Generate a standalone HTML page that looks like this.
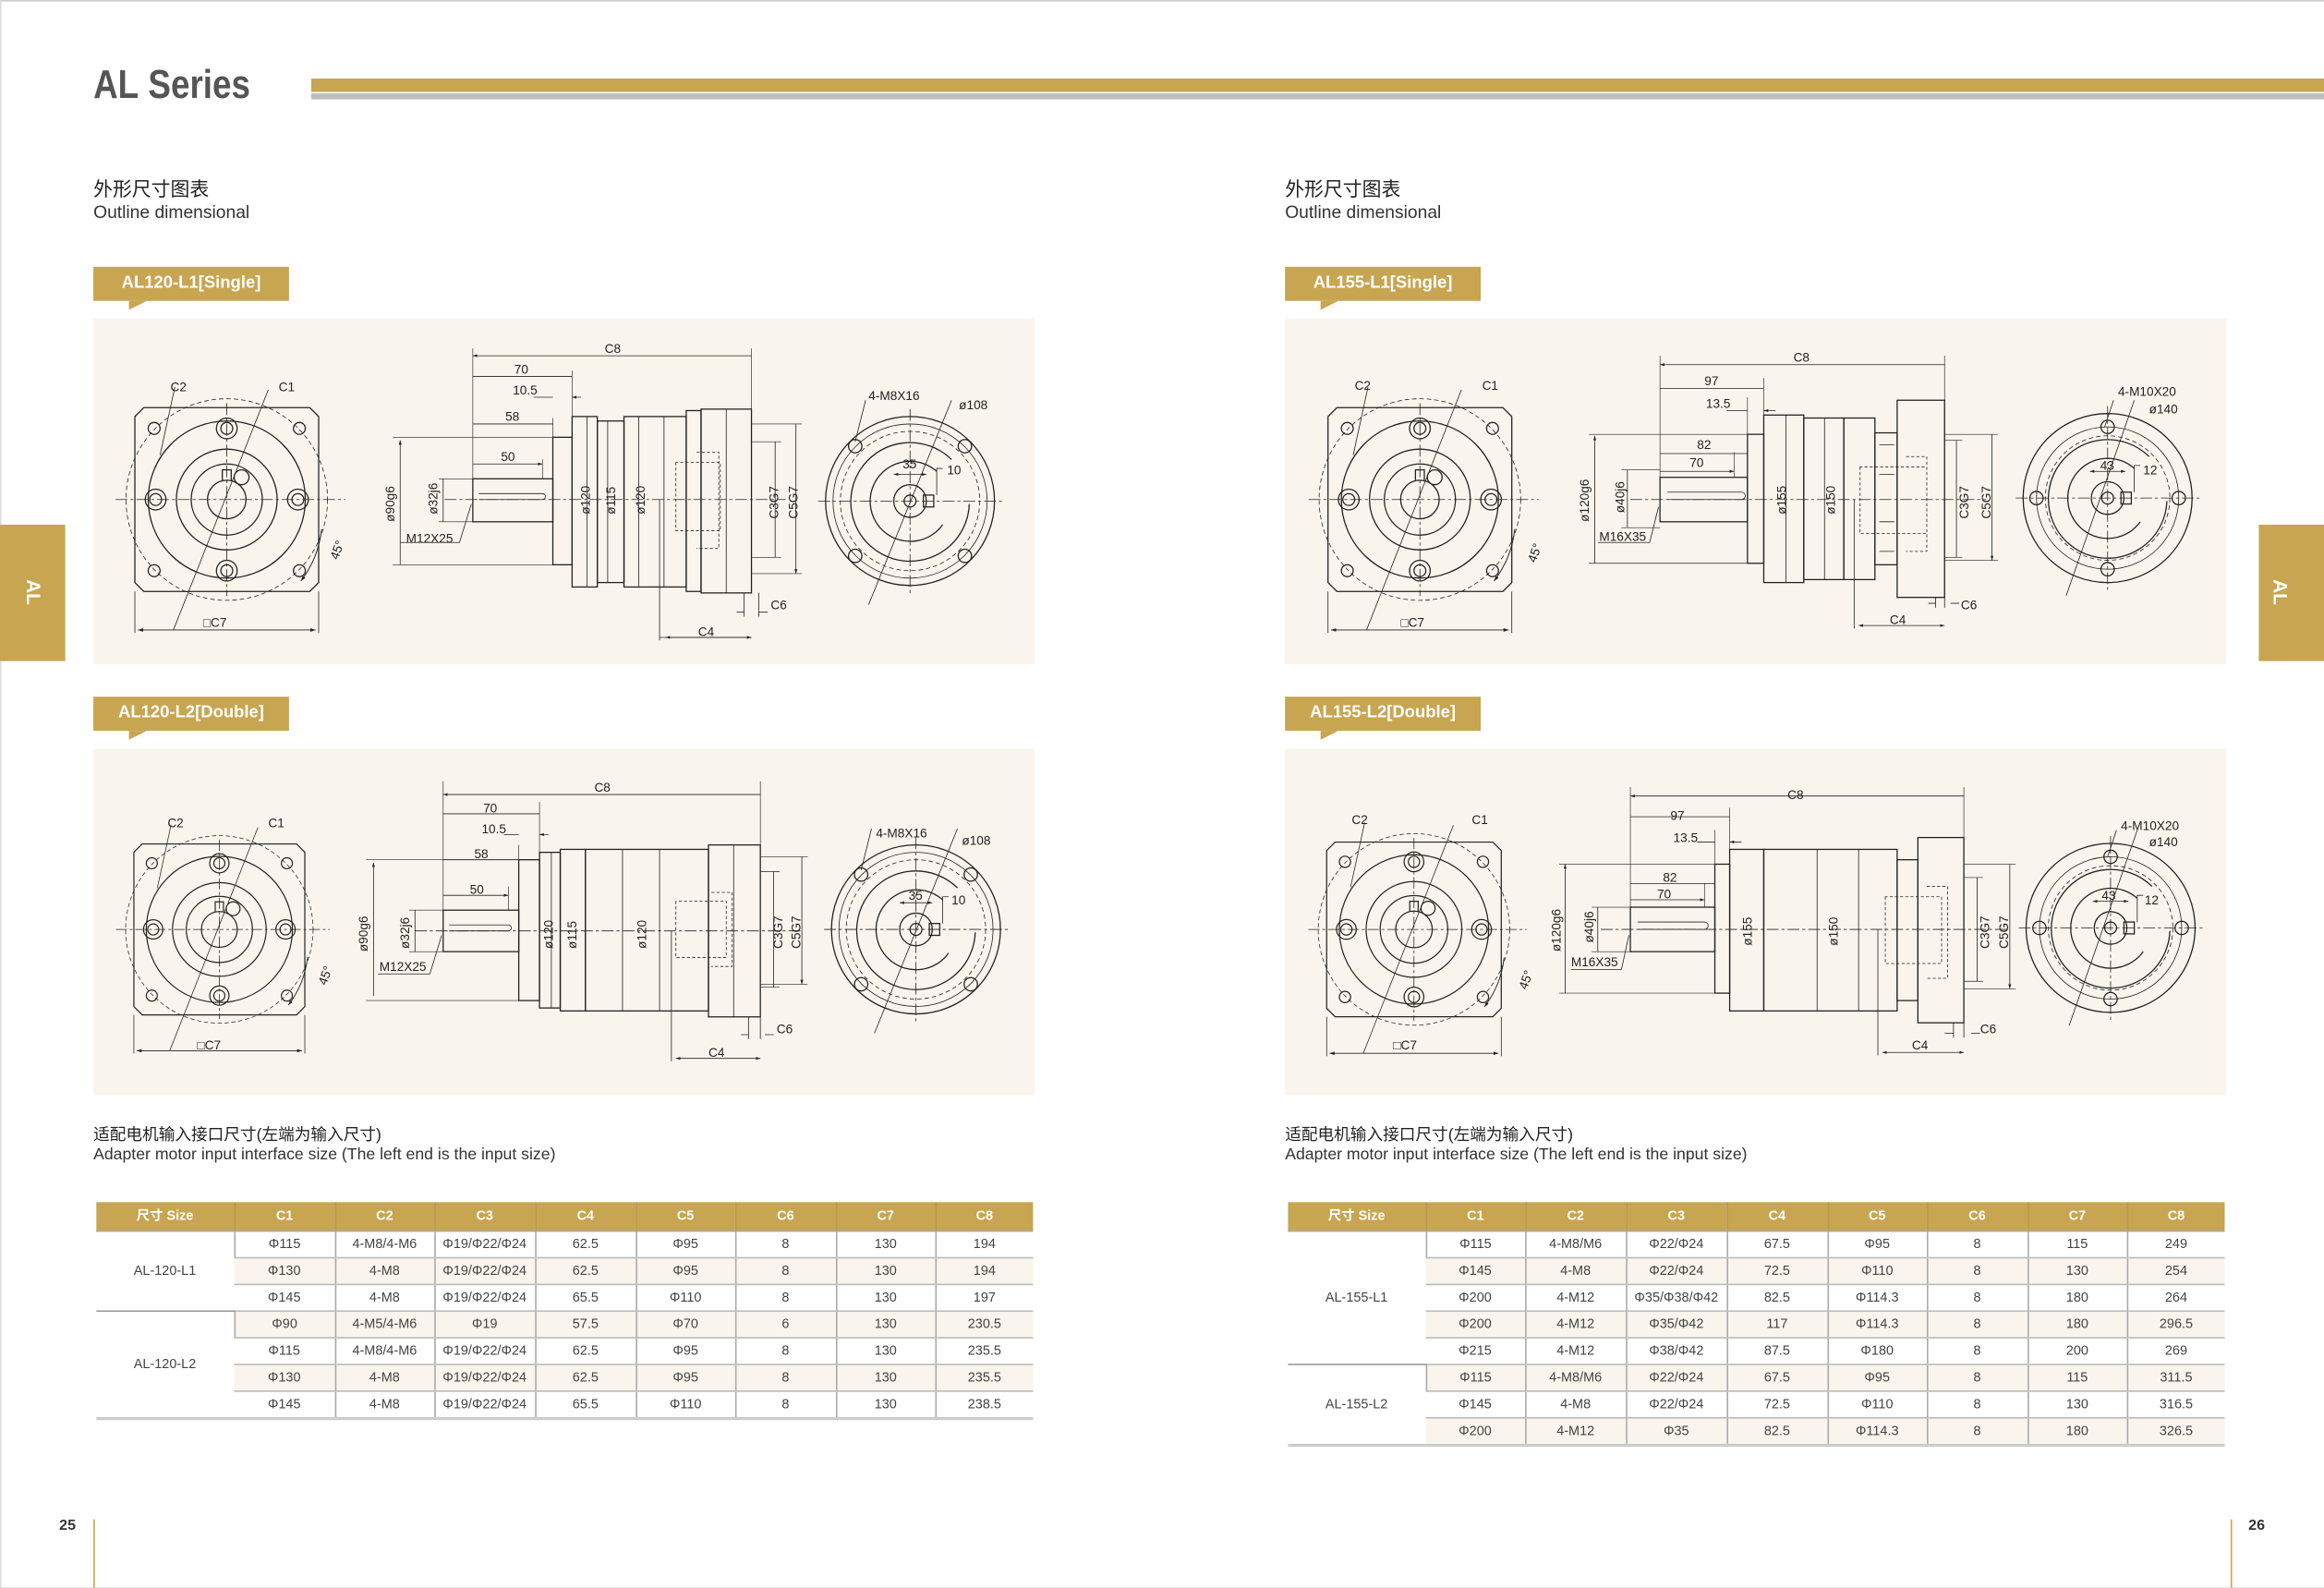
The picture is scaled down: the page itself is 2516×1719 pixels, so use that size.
<!DOCTYPE html>
<html><head><meta charset="utf-8">
<style>
html,body{margin:0;padding:0;background:#fff;}
#wrap{width:2516px;height:1719px;overflow:hidden;position:relative;}
#pg{position:absolute;left:0;top:0;width:1568px;height:1071px;transform:scale(1.6046);transform-origin:0 0;font-family:"Liberation Sans Narrow","Liberation Sans","Noto Sans CJK SC",sans-serif;color:#333;}
.a{position:absolute;}
.tab{position:absolute;background:#c8a550;color:#fff;font-weight:bold;font-size:11.5px;line-height:23px;text-align:center;height:23px;width:132px;}
.tab:after{content:"";position:absolute;left:24px;top:23px;border-left:0 solid transparent;border-right:12px solid transparent;border-top:6px solid #c8a550;}
.panel{position:absolute;background:#f9f5ec;}
table{border-collapse:collapse;position:absolute;font-family:"Liberation Sans Narrow","Liberation Sans","Noto Sans CJK SC",sans-serif;font-size:9px;color:#444;table-layout:fixed;}
td,th{text-align:center;padding:0;height:17px;line-height:17px;border-left:1px solid #aaa;border-bottom:1px solid #bbb;}
th{background:#c8a550;color:#fff;height:19px;line-height:19px;font-weight:bold;border-bottom:1px solid #aaa;border-left:1px solid #b89a50;}
tr td:first-child,tr th:first-child{border-left:none;}
.b td.s{background:#f9f5ec;}
svg text{font-family:"Liberation Sans Narrow","Liberation Sans",sans-serif;font-size:8.5px;fill:#222;}
</style></head><body><div id="wrap"><div id="pg">
<div class="a" style="left:0;top:0;width:1567px;height:1070px;border-top:1px solid #ccc;border-left:1px solid #ddd;border-right:1px solid #ddd;border-bottom:1px solid #ccc"></div>
<div class="a" style="left:63px;top:42px;font-size:27px;font-weight:bold;color:#555;transform:scaleX(0.85);transform-origin:0 0;font-family:'Liberation Sans',sans-serif">AL&nbsp;Series</div>
<div class="a" style="left:210px;top:53px;width:1358px;height:9px;background:#c8a550"></div>
<div class="a" style="left:210px;top:63px;width:1358px;height:4px;background:#bdbdbd"></div>
<div class="a" style="left:0;top:354px;width:44px;height:92px;background:#c8a550"></div>
<div class="a" style="left:14px;top:392px;color:#fff;font-weight:bold;font-size:13px;transform:rotate(90deg)">AL</div>
<div class="a" style="left:1524px;top:354px;width:44px;height:92px;background:#c8a550"></div>
<div class="a" style="left:1530px;top:392px;color:#fff;font-weight:bold;font-size:13px;transform:rotate(90deg)">AL</div>

<div class="a" style="left:63px;top:117px;font-size:13px;color:#222">外形尺寸图表</div>
<div class="a" style="left:63px;top:136px;font-size:12px;color:#333">Outline dimensional</div>
<div class="a" style="left:867px;top:117px;font-size:13px;color:#222">外形尺寸图表</div>
<div class="a" style="left:867px;top:136px;font-size:12px;color:#333">Outline dimensional</div>

<div class="tab" style="left:63px;top:180px">AL120-L1[Single]</div>
<div class="tab" style="left:63px;top:470px">AL120-L2[Double]</div>
<div class="tab" style="left:867px;top:180px">AL155-L1[Single]</div>
<div class="tab" style="left:867px;top:470px">AL155-L2[Double]</div>

<div class="panel" style="left:63px;top:215px;width:635px;height:233px"></div>
<div class="panel" style="left:63px;top:505px;width:635px;height:234px"></div>
<div class="panel" style="left:867px;top:215px;width:635px;height:233px"></div>
<div class="panel" style="left:867px;top:505px;width:635px;height:234px"></div>

<svg class="a" style="left:0;top:0" width="1568" height="1071" viewBox="0 0 1568 1071">
<defs>
<marker id="ar" markerWidth="6" markerHeight="4" refX="6" refY="2" orient="auto-start-reverse"><path d="M0,0 L6,2 L0,4z" fill="#222"/></marker>
<g id="front" fill="none" stroke="#222" stroke-width="0.8">
<path d="M-56,-62 L56,-62 L62,-56 L62,56 L56,62 L-56,62 L-62,56 L-62,-56z"/>
<circle r="68" stroke-dasharray="3,2" stroke-width="0.5"/>
<circle r="53"/><circle r="34"/><circle r="24"/><circle r="13"/>
<circle cx="0" cy="-48" r="7"/><circle cx="0" cy="-48" r="4"/>
<circle cx="0" cy="48" r="7"/><circle cx="0" cy="48" r="4"/>
<circle cx="-48" cy="0" r="7"/><circle cx="-48" cy="0" r="4"/>
<circle cx="48" cy="0" r="7"/><circle cx="48" cy="0" r="4"/>
<circle cx="-49" cy="-48" r="4"/><circle cx="49" cy="-48" r="4"/><circle cx="-49" cy="48" r="4"/><circle cx="49" cy="48" r="4"/>
<circle cx="10" cy="-15" r="5"/>
<path d="M-3,-13 L-3,-20 L3,-20 L3,-13" />
<path d="M-75,0 L80,0 M0,-65 L0,65" stroke-dasharray="8,2,2,2" stroke-width="0.5"/>
<path d="M-36,88 L28,-74 M-45,-30 L-35,-76" stroke-width="0.5"/>
<path d="M-62,62 L-62,90 M62,62 L62,90" stroke-width="0.5"/>
<path d="M-60,88 L60,88" stroke-width="0.6" marker-start="url(#ar)" marker-end="url(#ar)"/>
<path d="M64,20 A70,70 0 0 1 50,55" stroke-width="0.6" marker-end="url(#ar)"/>
</g>
<g id="end" fill="none" stroke="#222" stroke-width="0.8">
<circle r="57"/><circle r="52" stroke-width="0.5"/><circle r="47" stroke-dasharray="3,2" stroke-width="0.5"/>
<path d="M28,-28 A40,40 0 1 0 40,2"/><path d="M18,-20 A27,27 0 1 0 22,16"/>
<circle r="11"/><circle r="4"/>
<rect x="9" y="-4" width="7" height="8"/>
<circle cx="-37" cy="-37" r="4.5"/><circle cx="37" cy="-37" r="4.5"/><circle cx="-37" cy="37" r="4.5"/><circle cx="37" cy="37" r="4.5"/>
<path d="M-62,0 L62,0 M0,-62 L0,62" stroke-dasharray="8,2,2,2" stroke-width="0.5"/>
<path d="M-28,70 L28,-68 M-37,-40 L-30,-68" stroke-width="0.5"/>
<path d="M-11,-18 L11,-18" stroke-width="0.5" marker-start="url(#ar)" marker-end="url(#ar)"/>
<path d="M18,-4 L18,-22 L22,-22" stroke-width="0.5"/>
</g>
<g id="end155" fill="none" stroke="#222" stroke-width="0.8">
<circle r="57"/><circle r="48" stroke-width="0.5"/><circle r="42" stroke-dasharray="3,2" stroke-width="0.5"/>
<path d="M28,-28 A40,40 0 1 0 40,2"/><path d="M18,-20 A27,27 0 1 0 22,16"/>
<circle r="11"/><circle r="4"/>
<rect x="9" y="-4" width="7" height="8"/>
<circle cx="0" cy="-48" r="4.5"/><circle cx="0" cy="48" r="4.5"/><circle cx="-48" cy="0" r="4.5"/><circle cx="48" cy="0" r="4.5"/>
<path d="M-62,0 L62,0 M0,-62 L0,62" stroke-dasharray="8,2,2,2" stroke-width="0.5"/>
<path d="M-28,66 L18,-66 M-2,-48 L4,-66" stroke-width="0.5"/>
<path d="M-12,-18 L12,-18" stroke-width="0.5" marker-start="url(#ar)" marker-end="url(#ar)"/>
<path d="M18,-4 L18,-22 L22,-22" stroke-width="0.5"/>
</g>
</defs>

<!-- ===== AL120-L1 ===== -->
<use href="#front" x="153" y="337"/>
<use href="#end" x="614" y="338"/>
<g fill="none" stroke="#222" stroke-width="0.8">
<rect x="319" y="323" width="54" height="29"/>
<path d="M323,337 L366,337 A2,2 0 0 0 366,333 L323,333" stroke-width="0.5"/>
<rect x="373" y="295" width="13" height="86"/>
<rect x="386" y="281" width="17" height="115"/>
<rect x="403" y="284" width="18" height="109"/>
<rect x="421" y="281" width="42" height="115"/>
<rect x="463" y="277" width="10" height="122"/>
<rect x="473" y="276" width="34" height="124"/>
<path d="M396,281 L396,396 M410,284 L410,393 M431,281 L431,396 M448,281 L448,396 M490,276 L490,400" stroke-width="0.5"/>
<path d="M456,312 L456,358 L486,358 L486,312z M470,305 L485,305 L485,370 L470,370" stroke-dasharray="2,1.5" stroke-width="0.5"/>
<path d="M300,337 L530,337" stroke-dasharray="8,2,2,2" stroke-width="0.5"/>
<path d="M319,235 L319,323 M507,235 L507,400 M386,250 L386,281 M373,282 L373,295 M366,310 L366,323" stroke-width="0.4"/>
<path d="M319,240 L507,240 M319,254 L386,254 M319,286 L373,286 M319,313 L366,313" stroke-width="0.5" marker-start="url(#ar)" marker-end="url(#ar)"/>
<path d="M360,268 L373,268 M392,268 L386,268" stroke-width="0.5" marker-end="url(#ar)"/>
<path d="M270,297 L270,381 M299,323 L299,352 M523,298 L523,376 M537,286 L537,387" stroke-width="0.5" marker-start="url(#ar)" marker-end="url(#ar)"/>
<path d="M265,295 L373,295 M265,381 L373,381 M296,323 L319,323 M296,352 L319,352 M507,298 L527,298 M507,376 L527,376 M507,286 L541,286 M507,387 L541,387" stroke-width="0.4"/>
<path d="M445,337 L445,432 M445,430 L507,430" stroke-width="0.5"/>
<path d="M449,430 L507,430" stroke-width="0.5" marker-start="url(#ar)" marker-end="url(#ar)"/>
<path d="M497,413 L502,413 M518,413 L512,413 M502,400 L502,416 M512,400 L512,416" stroke-width="0.5"/>
<path d="M270,366 L310,366 L318,340" stroke-width="0.5"/>
</g>
<g>
<text x="115" y="264">C2</text><text x="188" y="264">C1</text><text x="137" y="423">□C7</text>
<text x="228" y="378" transform="rotate(-70 228 378)">45°</text>
<text x="408" y="238">C8</text><text x="347" y="252">70</text><text x="346" y="266">10.5</text><text x="341" y="284">58</text><text x="338" y="311">50</text>
<text x="266" y="352" transform="rotate(-90 266 352)">ø90g6</text>
<text x="295" y="347" transform="rotate(-90 295 347)">ø32j6</text>
<text x="274" y="366">M12X25</text>
<text x="398" y="347" transform="rotate(-90 398 347)">ø120</text>
<text x="415" y="347" transform="rotate(-90 415 347)">ø115</text>
<text x="435" y="347" transform="rotate(-90 435 347)">ø120</text>
<text x="525" y="350" transform="rotate(-90 525 350)">C3G7</text>
<text x="538" y="350" transform="rotate(-90 538 350)">C5G7</text>
<text x="520" y="411">C6</text><text x="471" y="429">C4</text>
<text x="586" y="270">4-M8X16</text><text x="647" y="276">ø108</text>
<text x="609" y="316">35</text><text x="639" y="320">10</text>
</g>

<!-- ===== AL120-L2 ===== -->
<use href="#front" x="148" y="627" transform="translate(148 627) scale(0.93) translate(-148 -627)"/>
<use href="#end" x="618" y="627"/>
<g fill="none" stroke="#222" stroke-width="0.8">
<rect x="299" y="614" width="51" height="28"/>
<path d="M303,628 L343,628 A2,2 0 0 0 343,624 L303,624" stroke-width="0.5"/>
<rect x="350" y="580" width="14" height="95"/>
<rect x="364" y="575" width="14" height="105"/>
<rect x="378" y="573" width="17" height="109"/>
<rect x="395" y="573" width="83" height="109"/>
<rect x="478" y="570" width="35" height="116"/>
<path d="M372,575 L372,680 M420,573 L420,682 M445,573 L445,682 M495,570 L495,686" stroke-width="0.5"/>
<path d="M456,608 L456,646 L490,646 L490,608z M480,602 L494,602 L494,652 L480,652" stroke-dasharray="2,1.5" stroke-width="0.5"/>
<path d="M280,628 L540,628" stroke-dasharray="8,2,2,2" stroke-width="0.5"/>
<path d="M299,527 L299,614 M513,527 L513,686 M364,541 L364,575 M350,570 L350,580 M343,598 L343,614" stroke-width="0.4"/>
<path d="M299,536 L513,536 M299,549 L364,549 M299,580 L350,580 M299,604 L343,604" stroke-width="0.5" marker-start="url(#ar)" marker-end="url(#ar)"/>
<path d="M340,563 L350,563 M370,563 L364,563" stroke-width="0.5" marker-end="url(#ar)"/>
<path d="M252,582 L252,672 M280,614 L280,642 M522,588 L522,666 M541,578 L541,664" stroke-width="0.5" marker-start="url(#ar)" marker-end="url(#ar)"/>
<path d="M247,580 L350,580 M247,675 L350,675 M276,614 L299,614 M276,642 L299,642 M513,588 L526,588 M513,666 L526,666 M513,578 L545,578 M513,664 L545,664" stroke-width="0.4"/>
<path d="M453,628 L453,716" stroke-width="0.5"/>
<path d="M456,714 L513,714" stroke-width="0.5" marker-start="url(#ar)" marker-end="url(#ar)"/>
<path d="M500,698 L505,698 M522,698 L516,698 M505,686 L505,701 M513,686 L513,701" stroke-width="0.5"/>
<path d="M255,657 L290,657 L298,631" stroke-width="0.5"/>
</g>
<g>
<text x="113" y="558">C2</text><text x="181" y="558">C1</text><text x="133" y="708">□C7</text>
<text x="220" y="665" transform="rotate(-70 220 665)">45°</text>
<text x="401" y="534">C8</text><text x="326" y="548">70</text><text x="325" y="562">10.5</text><text x="320" y="579">58</text><text x="317" y="603">50</text>
<text x="248" y="642" transform="rotate(-90 248 642)">ø90g6</text>
<text x="276" y="640" transform="rotate(-90 276 640)">ø32j6</text>
<text x="256" y="655">M12X25</text>
<text x="373" y="640" transform="rotate(-90 373 640)">ø120</text>
<text x="389" y="640" transform="rotate(-90 389 640)">ø115</text>
<text x="436" y="640" transform="rotate(-90 436 640)">ø120</text>
<text x="528" y="640" transform="rotate(-90 528 640)">C3G7</text>
<text x="540" y="640" transform="rotate(-90 540 640)">C5G7</text>
<text x="524" y="697">C6</text><text x="478" y="713">C4</text>
<text x="591" y="565">4-M8X16</text><text x="649" y="570">ø108</text>
<text x="613" y="607">35</text><text x="642" y="610">10</text>
</g>

<!-- ===== AL155-L1 ===== -->
<use href="#front" x="958" y="337"/>
<use href="#end155" x="1422" y="336"/>
<g fill="none" stroke="#222" stroke-width="0.8">
<rect x="1120" y="322" width="59" height="30"/>
<path d="M1125,337 L1175,337 A2,2 0 0 0 1175,332 L1125,332" stroke-width="0.5"/>
<rect x="1179" y="293" width="11" height="87"/>
<rect x="1190" y="280" width="27" height="113"/>
<rect x="1217" y="282" width="27" height="109"/>
<rect x="1244" y="282" width="21" height="109"/>
<rect x="1265" y="292" width="15" height="89"/>
<rect x="1280" y="270" width="32" height="133"/>
<path d="M1205,280 L1205,393 M1231,282 L1231,391 M1268,300 L1278,300 M1268,372 L1278,372 M1268,320 L1278,320 M1268,352 L1278,352" stroke-width="0.5"/>
<path d="M1255,315 L1255,360 L1300,360 L1300,315z M1286,308 L1300,308 L1300,372 L1286,372" stroke-dasharray="2,1.5" stroke-width="0.5"/>
<path d="M1100,337 L1340,337" stroke-dasharray="8,2,2,2" stroke-width="0.5"/>
<path d="M1120,240 L1120,322 M1312,240 L1312,403 M1190,255 L1190,280 M1179,268 L1179,293 M1170,305 L1170,322" stroke-width="0.4"/>
<path d="M1120,246 L1312,246 M1120,262 L1190,262 M1120,306 L1179,306 M1120,318 L1170,318" stroke-width="0.5" marker-start="url(#ar)" marker-end="url(#ar)"/>
<path d="M1165,277 L1179,277 M1198,277 L1190,277" stroke-width="0.5" marker-end="url(#ar)"/>
<path d="M1076,294 L1076,380 M1098,317 L1098,356 M1320,297 L1320,376 M1344,293 L1344,378" stroke-width="0.5" marker-start="url(#ar)" marker-end="url(#ar)"/>
<path d="M1072,293 L1179,293 M1072,380 L1179,380 M1094,317 L1120,317 M1094,356 L1120,356 M1312,297 L1324,297 M1312,376 L1324,376 M1312,293 L1348,293 M1312,378 L1348,378" stroke-width="0.4"/>
<path d="M1251,337 L1251,424" stroke-width="0.5"/>
<path d="M1254,422 L1312,422" stroke-width="0.5" marker-start="url(#ar)" marker-end="url(#ar)"/>
<path d="M1301,407 L1306,407 M1322,407 L1316,407 M1306,403 L1306,410 M1312,403 L1312,410" stroke-width="0.5"/>
<path d="M1078,366 L1113,366 L1119,342" stroke-width="0.5"/>
</g>
<g>
<text x="914" y="263">C2</text><text x="1000" y="263">C1</text><text x="945" y="423">□C7</text>
<text x="1036" y="380" transform="rotate(-70 1036 380)">45°</text>
<text x="1210" y="244">C8</text><text x="1150" y="260">97</text><text x="1151" y="275">13.5</text><text x="1145" y="303">82</text><text x="1140" y="315">70</text>
<text x="1072" y="352" transform="rotate(-90 1072 352)">ø120g6</text>
<text x="1096" y="346" transform="rotate(-90 1096 346)">ø40j6</text>
<text x="1079" y="365">M16X35</text>
<text x="1205" y="347" transform="rotate(-90 1205 347)">ø155</text>
<text x="1238" y="347" transform="rotate(-90 1238 347)">ø150</text>
<text x="1328" y="350" transform="rotate(-90 1328 350)">C3G7</text>
<text x="1343" y="350" transform="rotate(-90 1343 350)">C5G7</text>
<text x="1323" y="411">C6</text><text x="1275" y="421">C4</text>
<text x="1429" y="267">4-M10X20</text><text x="1450" y="279">ø140</text>
<text x="1417" y="317">43</text><text x="1446" y="320">12</text>
</g>

<!-- ===== AL155-L2 ===== -->
<use href="#front" x="954" y="627" transform="translate(954 627) scale(0.95) translate(-954 -627)"/>
<use href="#end155" x="1424" y="626"/>
<g fill="none" stroke="#222" stroke-width="0.8">
<rect x="1100" y="612" width="57" height="30"/>
<path d="M1105,627 L1150,627 A2,2 0 0 0 1150,622 L1105,622" stroke-width="0.5"/>
<rect x="1157" y="583" width="10" height="87"/>
<rect x="1167" y="573" width="23" height="109"/>
<rect x="1190" y="573" width="90" height="109"/>
<rect x="1280" y="580" width="14" height="95"/>
<rect x="1294" y="565" width="31" height="125"/>
<path d="M1226,573 L1226,682 M1254,573 L1254,682" stroke-width="0.5"/>
<path d="M1272,605 L1272,650 L1310,650 L1310,605z M1300,598 L1314,598 L1314,660 L1300,660" stroke-dasharray="2,1.5" stroke-width="0.5"/>
<path d="M1080,627 L1355,627" stroke-dasharray="8,2,2,2" stroke-width="0.5"/>
<path d="M1100,531 L1100,612 M1325,531 L1325,690 M1167,545 L1167,573 M1157,560 L1157,583 M1150,596 L1150,612" stroke-width="0.4"/>
<path d="M1100,537 L1325,537 M1100,551 L1167,551 M1100,596 L1157,596 M1100,607 L1150,607" stroke-width="0.5" marker-start="url(#ar)" marker-end="url(#ar)"/>
<path d="M1145,568 L1157,568 M1175,568 L1167,568" stroke-width="0.5" marker-end="url(#ar)"/>
<path d="M1056,583 L1056,670 M1078,612 L1078,642 M1334,592 L1334,662 M1356,583 L1356,667" stroke-width="0.5" marker-start="url(#ar)" marker-end="url(#ar)"/>
<path d="M1052,583 L1157,583 M1052,670 L1157,670 M1074,612 L1100,612 M1074,642 L1100,642 M1325,592 L1338,592 M1325,662 L1338,662 M1325,583 L1360,583 M1325,667 L1360,667" stroke-width="0.4"/>
<path d="M1267,627 L1267,712" stroke-width="0.5"/>
<path d="M1270,710 L1325,710 " stroke-width="0.5" marker-start="url(#ar)" marker-end="url(#ar)"/>
<path d="M1312,697 L1318,697 M1336,697 L1330,697 M1318,690 L1318,700 M1325,690 L1325,700" stroke-width="0.5"/>
<path d="M1060,654 L1094,654 L1099,631" stroke-width="0.5"/>
</g>
<g>
<text x="912" y="556">C2</text><text x="993" y="556">C1</text><text x="940" y="708">□C7</text>
<text x="1030" y="668" transform="rotate(-70 1030 668)">45°</text>
<text x="1206" y="539">C8</text><text x="1127" y="553">97</text><text x="1129" y="568">13.5</text><text x="1122" y="595">82</text><text x="1118" y="606">70</text>
<text x="1053" y="642" transform="rotate(-90 1053 642)">ø120g6</text>
<text x="1075" y="636" transform="rotate(-90 1075 636)">ø40j6</text>
<text x="1060" y="652">M16X35</text>
<text x="1182" y="638" transform="rotate(-90 1182 638)">ø155</text>
<text x="1240" y="638" transform="rotate(-90 1240 638)">ø150</text>
<text x="1342" y="640" transform="rotate(-90 1342 640)">C3G7</text>
<text x="1355" y="640" transform="rotate(-90 1355 640)">C5G7</text>
<text x="1336" y="697">C6</text><text x="1290" y="708">C4</text>
<text x="1431" y="560">4-M10X20</text><text x="1450" y="571">ø140</text>
<text x="1418" y="607">43</text><text x="1447" y="610">12</text>
</g>
</svg>

<div class="a" style="left:63px;top:757px;font-size:11px;color:#222">适配电机输入接口尺寸(左端为输入尺寸)</div>
<div class="a" style="left:63px;top:773px;font-size:11px;color:#333">Adapter motor input interface size (The left end is the input size)</div>
<div class="a" style="left:867px;top:757px;font-size:11px;color:#222">适配电机输入接口尺寸(左端为输入尺寸)</div>
<div class="a" style="left:867px;top:773px;font-size:11px;color:#333">Adapter motor input interface size (The left end is the input size)</div>

<table style="left:65px;top:811px;width:632px;border-bottom:2px solid #ccc">
<colgroup><col style="width:93px"><col style="width:68px"><col style="width:67px"><col style="width:68px"><col style="width:68px"><col style="width:67px"><col style="width:68px"><col style="width:67px"><col style="width:66px"></colgroup>
<tr><th>尺寸 Size</th><th>C1</th><th>C2</th><th>C3</th><th>C4</th><th>C5</th><th>C6</th><th>C7</th><th>C8</th></tr>
<tr><td rowspan="3" style="border-bottom:1px solid #999">AL-120-L1</td><td>Φ115</td><td>4-M8/4-M6</td><td>Φ19/Φ22/Φ24</td><td>62.5</td><td>Φ95</td><td>8</td><td>130</td><td>194</td></tr>
<tr class="b"><td class="s">Φ130</td><td class="s">4-M8</td><td class="s">Φ19/Φ22/Φ24</td><td class="s">62.5</td><td class="s">Φ95</td><td class="s">8</td><td class="s">130</td><td class="s">194</td></tr>
<tr><td>Φ145</td><td>4-M8</td><td>Φ19/Φ22/Φ24</td><td>65.5</td><td>Φ110</td><td>8</td><td>130</td><td>197</td></tr>
<tr class="b"><td rowspan="4" style="border-bottom:none">AL-120-L2</td><td class="s">Φ90</td><td class="s">4-M5/4-M6</td><td class="s">Φ19</td><td class="s">57.5</td><td class="s">Φ70</td><td class="s">6</td><td class="s">130</td><td class="s">230.5</td></tr>
<tr><td>Φ115</td><td>4-M8/4-M6</td><td>Φ19/Φ22/Φ24</td><td>62.5</td><td>Φ95</td><td>8</td><td>130</td><td>235.5</td></tr>
<tr class="b"><td class="s">Φ130</td><td class="s">4-M8</td><td class="s">Φ19/Φ22/Φ24</td><td class="s">62.5</td><td class="s">Φ95</td><td class="s">8</td><td class="s">130</td><td class="s">235.5</td></tr>
<tr><td>Φ145</td><td>4-M8</td><td>Φ19/Φ22/Φ24</td><td>65.5</td><td>Φ110</td><td>8</td><td>130</td><td>238.5</td></tr>
</table>

<table style="left:869px;top:811px;width:632px;border-bottom:2px solid #ccc">
<colgroup><col style="width:93px"><col style="width:67px"><col style="width:68px"><col style="width:68px"><col style="width:68px"><col style="width:67px"><col style="width:68px"><col style="width:67px"><col style="width:66px"></colgroup>
<tr><th>尺寸 Size</th><th>C1</th><th>C2</th><th>C3</th><th>C4</th><th>C5</th><th>C6</th><th>C7</th><th>C8</th></tr>
<tr><td rowspan="5" style="border-bottom:1px solid #999">AL-155-L1</td><td>Φ115</td><td>4-M8/M6</td><td>Φ22/Φ24</td><td>67.5</td><td>Φ95</td><td>8</td><td>115</td><td>249</td></tr>
<tr class="b"><td class="s">Φ145</td><td class="s">4-M8</td><td class="s">Φ22/Φ24</td><td class="s">72.5</td><td class="s">Φ110</td><td class="s">8</td><td class="s">130</td><td class="s">254</td></tr>
<tr><td>Φ200</td><td>4-M12</td><td>Φ35/Φ38/Φ42</td><td>82.5</td><td>Φ114.3</td><td>8</td><td>180</td><td>264</td></tr>
<tr class="b"><td class="s">Φ200</td><td class="s">4-M12</td><td class="s">Φ35/Φ42</td><td class="s">117</td><td class="s">Φ114.3</td><td class="s">8</td><td class="s">180</td><td class="s">296.5</td></tr>
<tr><td>Φ215</td><td>4-M12</td><td>Φ38/Φ42</td><td>87.5</td><td>Φ180</td><td>8</td><td>200</td><td>269</td></tr>
<tr class="b"><td rowspan="3" style="border-bottom:none">AL-155-L2</td><td class="s">Φ115</td><td class="s">4-M8/M6</td><td class="s">Φ22/Φ24</td><td class="s">67.5</td><td class="s">Φ95</td><td class="s">8</td><td class="s">115</td><td class="s">311.5</td></tr>
<tr><td>Φ145</td><td>4-M8</td><td>Φ22/Φ24</td><td>72.5</td><td>Φ110</td><td>8</td><td>130</td><td>316.5</td></tr>
<tr class="b"><td class="s">Φ200</td><td class="s">4-M12</td><td class="s">Φ35</td><td class="s">82.5</td><td class="s">Φ114.3</td><td class="s">8</td><td class="s">180</td><td class="s">326.5</td></tr>
</table>

<div class="a" style="left:40px;top:1024px;font-size:10px;font-weight:bold;color:#333">25</div>
<div class="a" style="left:63px;top:1025px;width:1px;height:46px;background:#c8a550"></div>
<div class="a" style="left:1517px;top:1024px;font-size:10px;font-weight:bold;color:#333">26</div>
<div class="a" style="left:1505px;top:1025px;width:1px;height:46px;background:#c8a550"></div>
</div></div></body></html>
